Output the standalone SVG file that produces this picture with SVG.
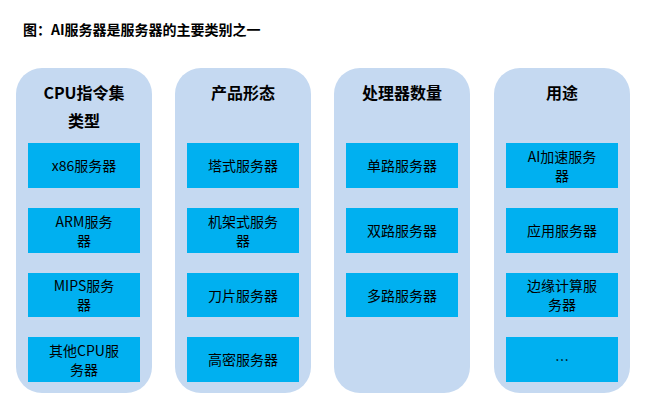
<svg xmlns="http://www.w3.org/2000/svg" width="660" height="411" viewBox="0 0 660 411">
<style>
text{font-family:"Noto Sans CJK SC","Liberation Sans",sans-serif;fill:#000;text-anchor:middle}
.t{font-size:14px;font-weight:bold;text-anchor:start}
.h{font-size:16px;font-weight:bold}
.c{fill:#C5D9F1}
.b{fill:#00B0F0}
.l{font-size:14px}
</style>
<rect width="660" height="411" fill="#fff"/>
<text class="t" x="23" y="35">图：AI服务器是服务器的主要类别之一</text>
<g id="col1"><rect class="c" x="16" y="68" width="136" height="325" rx="26"/>
<text class="h" x="84" y="99">CPU指令集</text><text class="h" x="84" y="127">类型</text></g>
<g id="col2"><rect class="c" x="175" y="68" width="136" height="325" rx="26"/><text class="h" x="243" y="99">产品形态</text></g>
<g id="col3"><rect class="c" x="334" y="68" width="136" height="325" rx="26"/><text class="h" x="402" y="99">处理器数量</text></g>
<g id="col4"><rect class="c" x="494" y="68" width="136" height="325" rx="26"/><text class="h" x="562" y="99">用途</text></g>
<g id="n11"><rect class="b" x="28" y="143" width="112" height="45"/><text class="l" x="84" y="171">x86服务器</text></g>
<g id="n12"><rect class="b" x="28" y="208" width="112" height="45"/><text class="l" x="84" y="227">ARM服务</text><text class="l" x="84" y="246">器</text></g>
<g id="n13"><rect class="b" x="28" y="273" width="112" height="44"/><text class="l" x="84" y="291">MIPS服务</text><text class="l" x="84" y="310">器</text></g>
<g id="n14"><rect class="b" x="28" y="337" width="112" height="45"/><text class="l" x="84" y="356">其他CPU服</text><text class="l" x="84" y="375">务器</text></g>
<g id="n21"><rect class="b" x="187" y="143" width="112" height="45"/><text class="l" x="243" y="171">塔式服务器</text></g>
<g id="n22"><rect class="b" x="187" y="208" width="112" height="45"/><text class="l" x="243" y="227">机架式服务</text><text class="l" x="243" y="246">器</text></g>
<g id="n23"><rect class="b" x="187" y="273" width="112" height="44"/><text class="l" x="243" y="301">刀片服务器</text></g>
<g id="n24"><rect class="b" x="187" y="337" width="112" height="45"/><text class="l" x="243" y="365">高密服务器</text></g>
<g id="n31"><rect class="b" x="346" y="143" width="112" height="45"/><text class="l" x="402" y="171">单路服务器</text></g>
<g id="n32"><rect class="b" x="346" y="208" width="112" height="45"/><text class="l" x="402" y="236">双路服务器</text></g>
<g id="n33"><rect class="b" x="346" y="273" width="112" height="44"/><text class="l" x="402" y="301">多路服务器</text></g>
<g id="n41"><rect class="b" x="506" y="143" width="112" height="45"/><text class="l" x="562" y="162">AI加速服务</text><text class="l" x="562" y="181">器</text></g>
<g id="n42"><rect class="b" x="506" y="208" width="112" height="45"/><text class="l" x="562" y="236">应用服务器</text></g>
<g id="n43"><rect class="b" x="506" y="273" width="112" height="44"/><text class="l" x="562" y="291">边缘计算服</text><text class="l" x="562" y="310">务器</text></g>
<g id="n44"><rect class="b" x="506" y="337" width="112" height="45"/><text class="l" x="562" y="365">…</text></g>
<g id="connectors"/>
</svg>
